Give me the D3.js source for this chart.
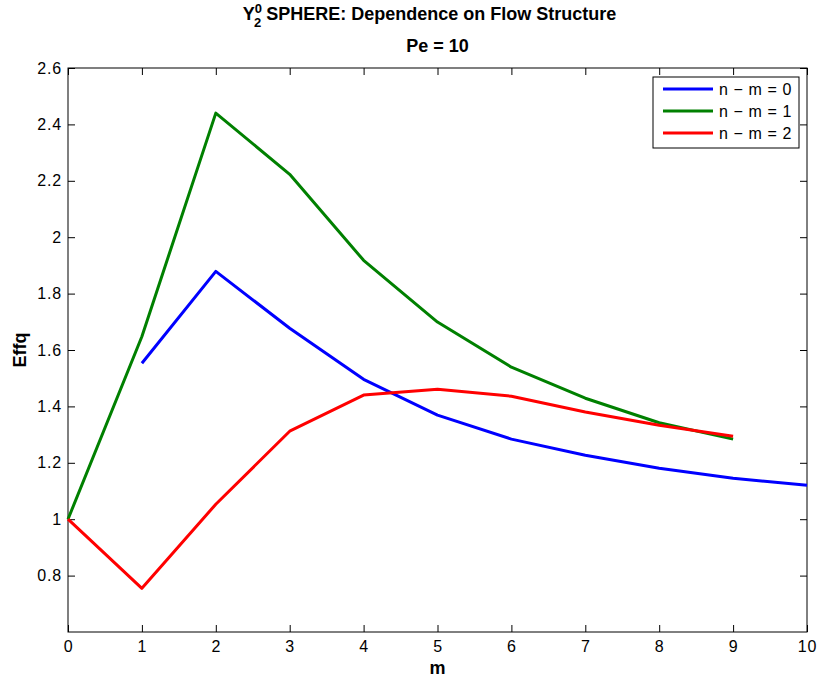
<!DOCTYPE html>
<html>
<head>
<meta charset="utf-8">
<script src="https://cdn.jsdelivr.net/npm/d3@7"></script>
<style>
  body { margin: 0; background: #fff; }
  svg { font-family: "Liberation Sans", Arial, sans-serif; }
</style>
</head>
<body>
<script>
// chart data
const mValues = [0, 1, 2, 3, 4, 5, 6, 7, 8, 9, 10];
const seriesNames = ['n \u2212 m = 0', 'n \u2212 m = 1', 'n \u2212 m = 2'];
const effq0 = [null, 1.553, 1.879, 1.677, 1.496, 1.369, 1.284, 1.227, 1.181, 1.145, 1.12];
const effq1 = [1.0, 1.648, 2.44, 2.223, 1.918, 1.699, 1.539, 1.429, 1.342, 1.284, null];
const effq2 = [1.0, 0.755, 1.053, 1.312, 1.44, 1.461, 1.436, 1.38, 1.333, 1.294, null];
const xTicks = [0, 1, 2, 3, 4, 5, 6, 7, 8, 9, 10];
const yTicks = [0.8, 1, 1.2, 1.4, 1.6, 1.8, 2, 2.2, 2.4, 2.6];
const colors = ['#0000ff', '#008000', '#ff0000'];

const width = 818;
const height = 680;
const margin = { top: 68, right: 11, bottom: 48, left: 68 };
const innerW = width - margin.left - margin.right;
const innerH = height - margin.top - margin.bottom;

const svg = d3.select('body').append('svg')
  .attr('width', width)
  .attr('height', height);

const g = svg.append('g')
  .attr('transform', `translate(${margin.left},${margin.top})`);

const x = d3.scaleLinear().domain([0, 10]).range([0, innerW]);
const y = d3.scaleLinear().domain([0.6, 2.6]).range([innerH, 0]);

const tickLen = 7;

// bottom axis
g.append('g')
  .attr('transform', `translate(0,${innerH})`)
  .call(d3.axisBottom(x).tickValues(xTicks).tickSizeInner(-tickLen).tickSizeOuter(0).tickPadding(9))
  .call(a => a.select('.domain').remove());

// top ticks
g.append('g')
  .call(d3.axisTop(x).tickValues(xTicks).tickSizeInner(-tickLen).tickSizeOuter(0).tickFormat(''))
  .call(a => a.select('.domain').remove());

// left axis
g.append('g')
  .call(d3.axisLeft(y).tickValues(yTicks).tickSizeInner(-tickLen).tickSizeOuter(0).tickPadding(6).tickFormat(d3.format('')))
  .call(a => a.select('.domain').remove());

// right ticks
g.append('g')
  .attr('transform', `translate(${innerW},0)`)
  .call(d3.axisRight(y).tickValues(yTicks).tickSizeInner(-tickLen).tickSizeOuter(0).tickFormat(''))
  .call(a => a.select('.domain').remove());

g.selectAll('.tick text')
  .style('font-size', '16px')
  .style('letter-spacing', '0.8px')
  .attr('font-family', '"Liberation Sans", Arial, sans-serif')
  .attr('fill', '#000');
g.selectAll('.tick line').attr('stroke', '#000');

// box
g.append('rect')
  .attr('width', innerW)
  .attr('height', innerH)
  .attr('fill', 'none')
  .attr('stroke', '#000')
  .attr('stroke-width', 1);

// lines
const line = d3.line()
  .defined(d => d.v !== null)
  .x(d => x(d.m))
  .y(d => y(d.v));

[effq0, effq1, effq2].forEach((vals, i) => {
  const pts = mValues.map((m, j) => ({ m: m, v: vals[j] }));
  g.append('path')
    .datum(pts)
    .attr('fill', 'none')
    .attr('stroke', colors[i])
    .attr('stroke-width', 3)
    .attr('stroke-linejoin', 'round')
    .attr('d', line);
});

// title
const title = svg.append('text')
  .attr('x', margin.left + innerW / 2 - 8)
  .attr('y', 20)
  .attr('text-anchor', 'middle')
  .style('font-size', '18px')
  .attr('font-weight', 'bold');
title.append('tspan').text('Y');
title.append('tspan').style('font-size', '13px').attr('dy', -7).text('0');
title.append('tspan').style('font-size', '13px').attr('dx', -8).attr('dy', 14).text('2');
title.append('tspan').attr('dy', -7).text(' SPHERE: Dependence on Flow Structure');

svg.append('text')
  .attr('x', margin.left + innerW / 2)
  .attr('y', 52)
  .attr('text-anchor', 'middle')
  .style('font-size', '18px')
  .attr('font-weight', 'bold')
  .text('Pe = 10');

// axis labels
svg.append('text')
  .attr('x', margin.left + innerW / 2)
  .attr('y', 674)
  .attr('text-anchor', 'middle')
  .style('font-size', '18px')
  .attr('font-weight', 'bold')
  .text('m');

svg.append('text')
  .attr('transform', `translate(26,${margin.top + innerH / 2}) rotate(-90)`)
  .attr('text-anchor', 'middle')
  .style('font-size', '18px')
  .attr('font-weight', 'bold')
  .text('Effq');

// legend
const legend = svg.append('g').attr('transform', 'translate(653,77)');
legend.append('rect')
  .attr('width', 146)
  .attr('height', 71)
  .attr('fill', '#fff')
  .attr('stroke', '#000');
seriesNames.forEach((name, i) => {
  const ly = 12 + i * 22;
  legend.append('line')
    .attr('x1', 10).attr('x2', 60)
    .attr('y1', ly).attr('y2', ly)
    .attr('stroke', colors[i])
    .attr('stroke-width', 3);
  legend.append('text')
    .attr('x', 66)
    .attr('y', ly + 6)
    .style('font-size', '16px')
    .style('letter-spacing', '0.6px')
    .text(name);
});
</script>
</body>
</html>
